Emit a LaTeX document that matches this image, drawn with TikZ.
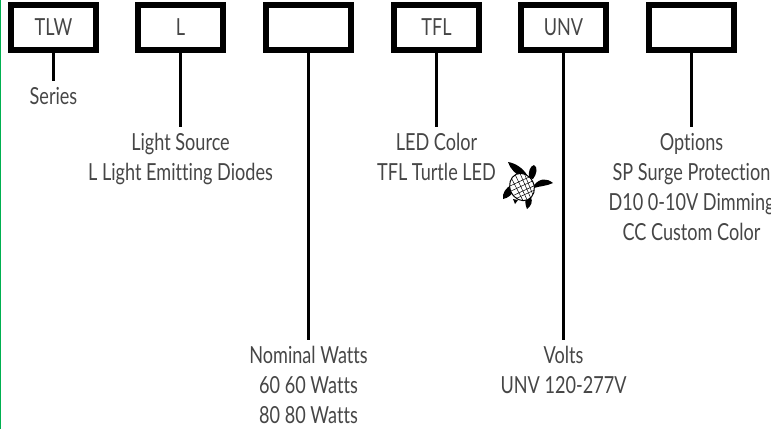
\documentclass[tikz,border=0pt]{standalone}
\usepackage{fontspec}
\setmainfont{Lato}[FakeStretch=0.77,Ligatures=NoCommon]
\definecolor{edgegreen}{RGB}{0,176,80}
\definecolor{labelgray}{RGB}{70,70,70}
\tikzset{
  codebox/.style={draw=black, line width=6pt, minimum width=85pt, minimum height=45pt, inner sep=0pt, text=labelgray, font=\fontsize{23.5}{24}\selectfont},
  codelabel/.style={anchor=north, align=center, inner xsep=0pt, inner ysep=6pt, text=labelgray, font=\fontsize{23.5}{30}\selectfont},
  flipper/.style={fill=black, draw=none}
}
\begin{document}
\begin{tikzpicture}[x=1pt,y=-1pt]
\useasboundingbox (0,0) rectangle (771,429);
\clip (0,0) rectangle (771,429);
\fill[edgegreen] (0,0) rectangle (1.2,429);

\foreach \n/\x/\t in {series/53.5/TLW, source/180.5/L, watts/308.5/{}, color/436.5/TFL, volts/563.5/UNV, options/691.5/{}}
{
  \node[codebox] (\n box) at (\x,27.5) {\t};
}

\node[codelabel] (series) at (53.5,81) {Series};
\node[codelabel] (source) at (180.5,127) {Light Source\\L Light Emitting Diodes};
\node[codelabel] (watts) at (308.5,340) {Nominal Watts\\60 60 Watts\\80 80 Watts};
\node[codelabel] (color) at (436.5,127) {LED Color\\TFL Turtle LED};
\node[codelabel] (volts) at (563.5,340) {Volts\\UNV 120-277V};
\node[codelabel] (options) at (691.5,127) {Options\\SP Surge Protection\\D10 0-10V Dimming\\CC Custom Color};

\foreach \n in {series,source,watts,color,volts,options}
{
  \draw[line width=3.5pt] (\n box.south) -- (\n.north);
}

% turtle
\fill[flipper] (522,178)..controls (516,174) and (510,169)..(508,162)..controls (515,163) and (523,168)..(527,175)--cycle;
\fill[flipper] (529,178)..controls (528,172) and (530,166)..(534,165)..controls (538,167) and (537,174)..(533,179)--cycle;
\fill[flipper] (534,185)..controls (540,178) and (547,178)..(553,183)..controls (547,186) and (540,186)..(534,188)--cycle;
\fill[flipper] (511,185)..controls (506,188) and (502,193)..(503,199)..controls (508,198) and (512,195)..(514,190)--cycle;
\fill[flipper] (531,197)..controls (533,202) and (531,206)..(527,209)..controls (525,205) and (525,200)..(526,197)--cycle;
\fill[flipper] (513,199)--(515,204)--(518,200)--cycle;
\draw[line width=1pt, fill=white, rotate around={25:(522,187)}] (522,187) ellipse (12 and 14);
\begin{scope}
\clip[rotate around={25:(522,187)}] (522,187) ellipse (12 and 14);
\foreach \d in {-6,-1,4,8}
{
  \draw[line width=0.5pt, rotate around={25:(522,187)}] (522+\d,172) -- (522+\d*0.8,202);
  \draw[line width=0.5pt, rotate around={25:(522,187)}] (508,187+\d) -- (536,187+\d);
}
\end{scope}
\end{tikzpicture}
\end{document}
